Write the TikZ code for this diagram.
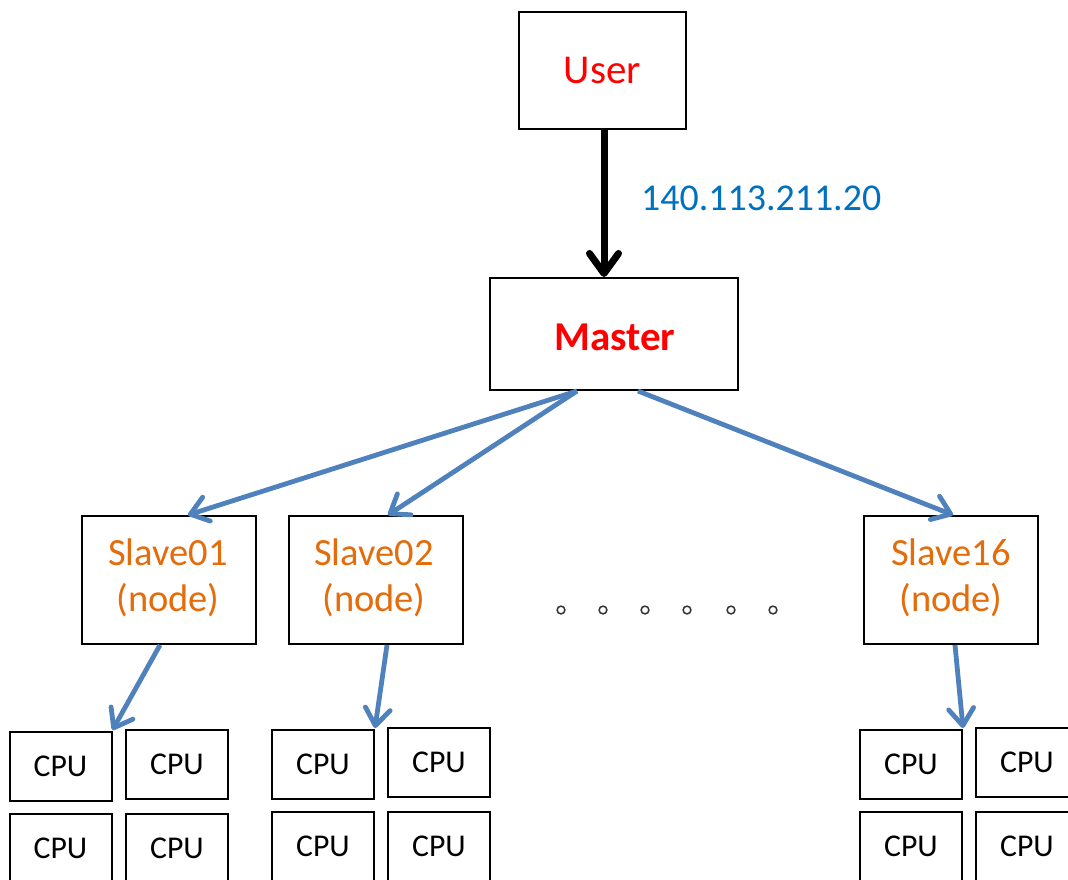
\documentclass[tikz,border=0pt]{standalone}
\usepackage{fontspec}
\setmainfont{Carlito}
\usetikzlibrary{arrows.meta}
\definecolor{ipblue}{HTML}{0070C0}
\definecolor{linkblue}{HTML}{4F81BD}
\definecolor{slaveorange}{HTML}{E46C0A}
\definecolor{dotgray}{HTML}{333333}
\begin{document}
\begin{tikzpicture}[x=1pt,y=-1pt,
  box/.style={draw=black, line width=2pt, inner sep=0pt},
  slavebox/.style={box, minimum width=174pt, minimum height=128pt},
  slavetext/.style={anchor=base, inner sep=0pt, text=slaveorange,
                    font=\fontsize{38.5}{46}\selectfont},
  cpu/.style={box, minimum width=102pt, minimum height=69pt,
              font=\fontsize{31.7}{38}\selectfont},
  uplink/.style={draw=black, line width=7pt,
                 -{Straight Barb[length=20pt,width=29pt,round]}},
  link/.style={draw=linkblue, line width=4.8pt,
               -{Straight Barb[length=17pt,width=25pt,round]}}]
\clip (0,0) rectangle (1068,879);
\fill[white] (0,0) rectangle (1068,879);

% user and master
\node[box, minimum width=167pt, minimum height=117pt, text=red,
      font=\fontsize{41}{49}\selectfont] (user) at (602.5,70.5) {User};
\node[box, minimum width=248pt, minimum height=112pt] (master) at (614,334) {};
\node[anchor=base, inner sep=0pt, text=red,
      font=\fontsize{41}{49}\selectfont\bfseries] (mastertxt) at (615,350) {Master};
\node[anchor=base west, inner sep=0pt, text=ipblue,
      font=\fontsize{37.9}{45}\selectfont] (ip) at (641,210) {140.113.211.20};

% slave nodes
\node[slavebox] (s1) at (169,580) {};
\node[slavebox] (s2) at (375.5,580) {};
\node[slavebox] (s16) at (951,580) {};
\node[slavetext] (s1a) at (168,565) {Slave01};
\node[slavetext] (s1b) at (168,611) {(node)};
\node[slavetext] (s2a) at (374,565) {Slave02};
\node[slavetext] (s2b) at (374,611) {(node)};
\node[slavetext] (s16a) at (951,565) {Slave16};
\node[slavetext] (s16b) at (951,611) {(node)};

% ellipsis between the slaves
\foreach \x in {561,603,645,687,731,773}
  \draw[dotgray, line width=1.5pt] (\x,610) circle (3.9pt);

% CPU groups
\node[cpu] (c1a) at (60.5,766.5) {CPU};
\node[cpu] (c1b) at (177,764.5) {CPU};
\node[cpu] (c1c) at (60.5,848.5) {CPU};
\node[cpu] (c1d) at (177,848.5) {CPU};
\node[cpu] (c2a) at (323,764.5) {CPU};
\node[cpu] (c2b) at (439,762.5) {CPU};
\node[cpu] (c2c) at (323,846.5) {CPU};
\node[cpu] (c2d) at (439,846.5) {CPU};
\node[cpu] (c3a) at (911,764.5) {CPU};
\node[cpu] (c3b) at (1027,762.5) {CPU};
\node[cpu] (c3c) at (911,846.5) {CPU};
\node[cpu] (c3d) at (1027,846.5) {CPU};

% connectors
\draw[uplink] ([xshift=1.5pt]user.south) -- ([xshift=-10pt]master.north);
\draw[link] ([xshift=-37pt]master.south) -- ([xshift=19pt]s1.north);
\draw[link] ([xshift=-37pt]master.south) -- ([xshift=12.5pt]s2.north);
\draw[link] ([xshift=24pt]master.south) -- ([xshift=2pt]s16.north);
\draw[link] ([xshift=-9pt]s1.south) -- ([yshift=1pt]c1a.north east);
\draw[link] ([xshift=11.5pt]s2.south) -- ([yshift=1pt]c2a.north east);
\draw[link] ([xshift=4pt]s16.south) -- ([yshift=1pt]c3a.north east);
\end{tikzpicture}
\end{document}
